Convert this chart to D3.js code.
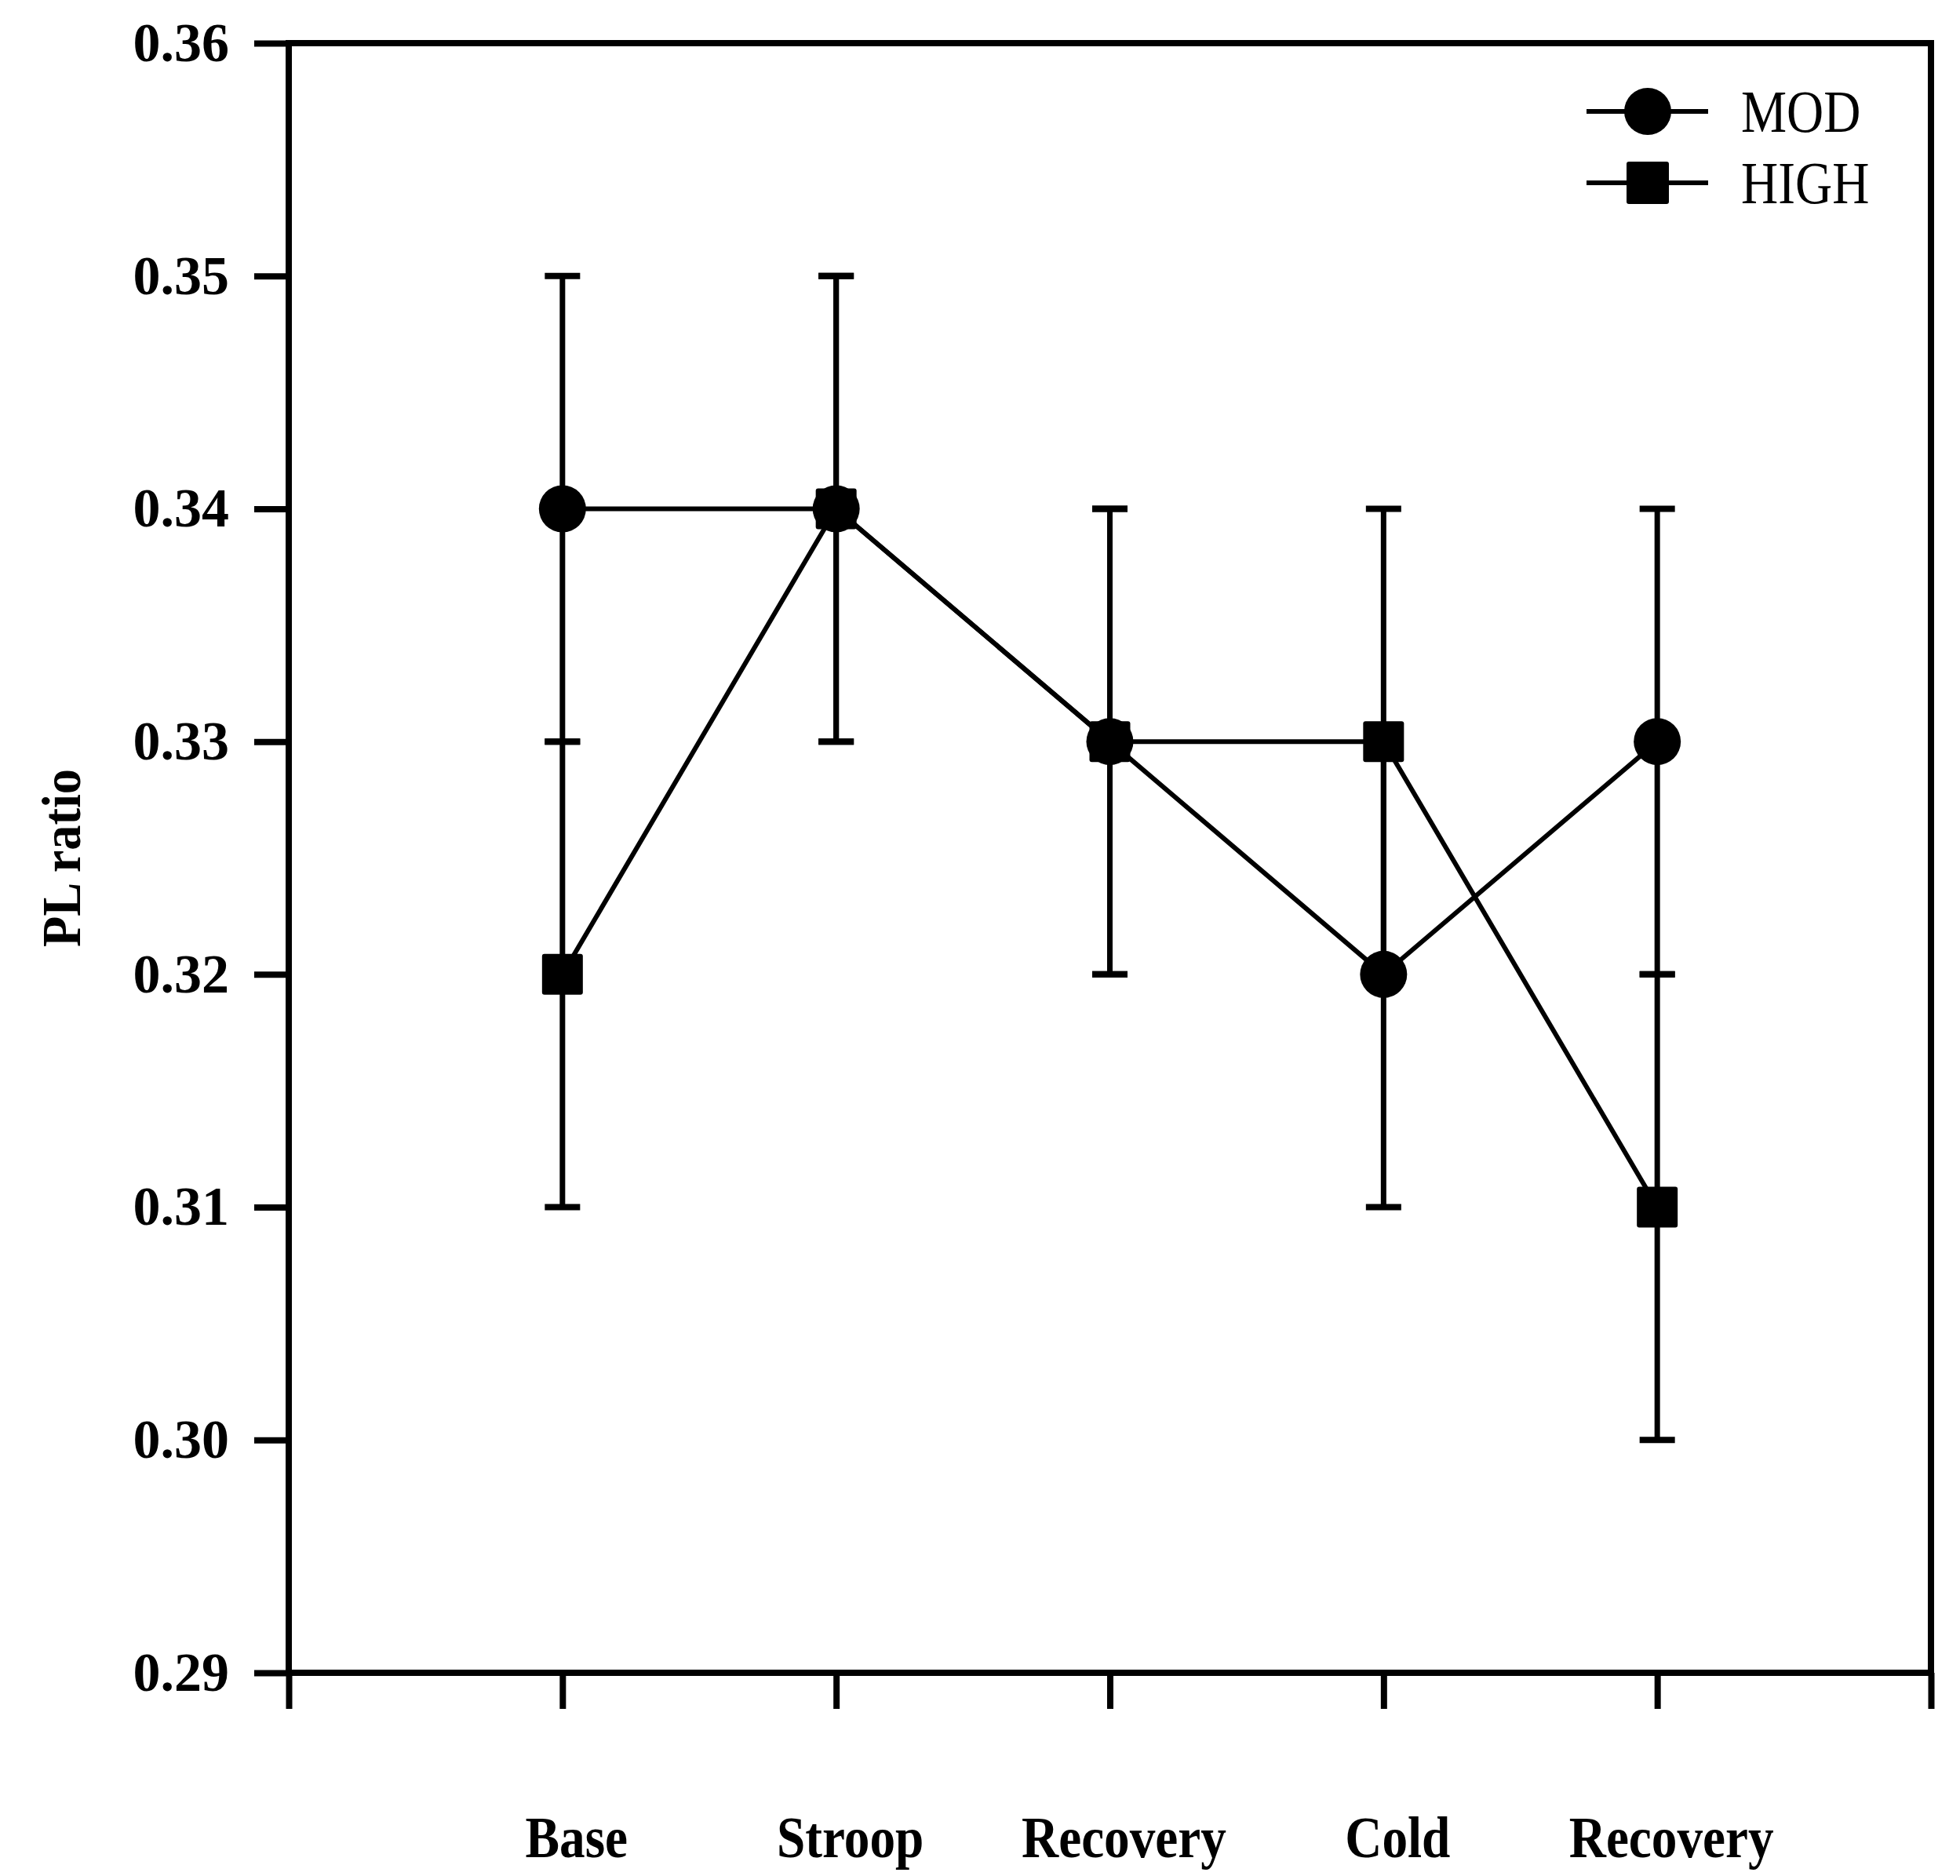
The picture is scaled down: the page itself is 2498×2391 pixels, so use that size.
<!DOCTYPE html>
<html>
<head>
<meta charset="utf-8">
<script src="https://cdnjs.cloudflare.com/ajax/libs/d3/7.8.5/d3.min.js"></script>
<style>
  body { margin: 0; background: white; }
  text { font-family: "Liberation Serif", "Times New Roman", serif; fill: black; }
</style>
</head>
<body>
<div id="chart"></div>
<script>
// values
var categories = ["Base", "Stroop", "Recovery", "Cold", "Recovery"];
var modMean  = [0.34, 0.34, 0.33, 0.32, 0.33];
var modErr   = [0.01, 0.01, 0.01, 0.01, 0.01];
var highMean = [0.32, 0.34, 0.33, 0.33, 0.31];
var highErr  = [0.01, 0.01, 0.01, 0.01, 0.01];
var yTicks = [0.29, 0.30, 0.31, 0.32, 0.33, 0.34, 0.35, 0.36];
var seriesNames = ["MOD", "HIGH"];

var w = 2498, h = 2391;
// plot frame edges
var plotLeft = 368, plotRight = 2461, plotTop = 55, plotBottom = 2132;

var svg = d3.select("#chart")
  .append("svg")
    .attr("width", w)
    .attr("height", h);

svg.append("rect")
  .attr("width", w)
  .attr("height", h)
  .attr("fill", "white");

// x: category i sits at i+1, frame edges at 0 and 6
var xScale = d3.scaleLinear()
  .domain([0, categories.length + 1])
  .range([plotLeft, plotRight]);

var yScale = d3.scaleLinear()
  .domain([0.29, 0.36])
  .range([plotBottom, plotTop]);

var yAxis = d3.axisLeft(yScale)
  .tickValues(yTicks)
  .tickFormat(d3.format(".2f"))
  .tickSize(44)
  .tickSizeOuter(0)
  .tickPadding(32);

var xAxis = d3.axisBottom(xScale)
  .tickValues(d3.range(0, categories.length + 2))
  .tickFormat("")
  .tickSize(46)
  .tickSizeOuter(0);

var gy = svg.append("g")
  .attr("transform", `translate(${plotLeft},0)`)
  .call(yAxis);
gy.select(".domain").remove();
gy.selectAll(".tick line").attr("stroke", "black").attr("stroke-width", 8);
gy.selectAll(".tick text")
  .attr("font-size", 70)
  .attr("font-weight", "bold")
  .attr("font-family", "Liberation Serif, serif");

var gx = svg.append("g")
  .attr("transform", `translate(0,${plotBottom})`)
  .call(xAxis);
gx.select(".domain").remove();
gx.selectAll(".tick line").attr("stroke", "black").attr("stroke-width", 8);

// plot frame
svg.append("rect")
  .attr("x", plotLeft)
  .attr("y", plotTop)
  .attr("width", plotRight - plotLeft)
  .attr("height", plotBottom - plotTop)
  .attr("fill", "none")
  .attr("stroke", "black")
  .attr("stroke-width", 8);

// category labels, slightly condensed like the scan
svg.append("g")
  .selectAll("text")
  .data(categories)
  .enter().append("text")
    .attr("transform", (d, i) => `translate(${xScale(i + 1) + 18},2367) scale(0.87,1)`)
    .attr("text-anchor", "middle")
    .attr("font-size", 75)
    .attr("font-weight", "bold")
    .text(d => d);

// y label
svg.append("text")
  .attr("transform", `translate(102,${(plotTop + plotBottom) / 2}) rotate(-90) scale(0.92,1)`)
  .attr("text-anchor", "middle")
  .attr("font-size", 70)
  .attr("font-weight", "bold")
  .text("PL ratio");

var series = [
  { name: "MOD", mean: modMean, err: modErr },
  { name: "HIGH", mean: highMean, err: highErr }
];

// error bars
var capW = 45;
series.forEach(function(s) {
  var g = svg.append("g").attr("class", "err");
  s.mean.forEach(function(m, i) {
    var x = xScale(i + 1);
    g.append("line")
      .attr("x1", x).attr("x2", x)
      .attr("y1", yScale(m - s.err[i]))
      .attr("y2", yScale(m + s.err[i]))
      .attr("stroke", "black").attr("stroke-width", 7);
    [m - s.err[i], m + s.err[i]].forEach(function(v) {
      g.append("line")
        .attr("x1", x - capW / 2).attr("x2", x + capW / 2)
        .attr("y1", yScale(v)).attr("y2", yScale(v))
        .attr("stroke", "black").attr("stroke-width", 8);
    });
  });
});

// lines
var line = d3.line()
  .x((d, i) => xScale(i + 1))
  .y(d => yScale(d));

series.forEach(function(s) {
  svg.append("path")
    .datum(s.mean)
    .attr("d", line)
    .attr("fill", "none")
    .attr("stroke", "black")
    .attr("stroke-width", 6)
    .attr("stroke-linejoin", "round");
});

// markers: circles for MOD, squares for HIGH
var r = 30, sq = 52;
svg.append("g")
  .selectAll("circle")
  .data(modMean)
  .enter().append("circle")
    .attr("cx", (d, i) => xScale(i + 1))
    .attr("cy", d => yScale(d))
    .attr("r", r)
    .attr("fill", "black");

svg.append("g")
  .selectAll("rect")
  .data(highMean)
  .enter().append("rect")
    .attr("x", (d, i) => xScale(i + 1) - sq / 2)
    .attr("y", d => yScale(d) - sq / 2)
    .attr("width", sq)
    .attr("height", sq)
    .attr("rx", 3)
    .attr("fill", "black");

// legend
var legend = svg.append("g").attr("transform", "translate(2022,142)");
seriesNames.forEach(function(name, i) {
  var g = legend.append("g").attr("transform", `translate(0,${i * 91})`);
  g.append("line")
    .attr("x1", 0).attr("x2", 155)
    .attr("y1", 0).attr("y2", 0)
    .attr("stroke", "black").attr("stroke-width", 6);
  if (i == 0) {
    g.append("circle").attr("cx", 78).attr("cy", 0).attr("r", r).attr("fill", "black");
  } else {
    g.append("rect").attr("x", 78 - 27).attr("y", -27).attr("width", 54).attr("height", 54)
      .attr("rx", 3).attr("fill", "black");
  }
  g.append("text")
    .attr("transform", "translate(197,26) scale(0.86,1)")
    .attr("font-size", 76)
    .text(name);
});
</script>
</body>
</html>
